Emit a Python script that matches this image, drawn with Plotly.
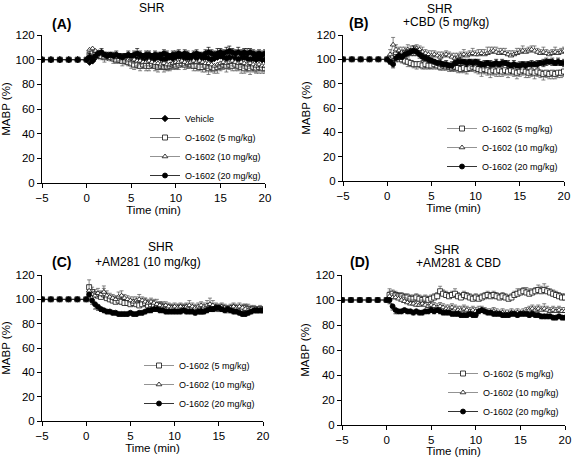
import plotly.graph_objects as go

# ---------------- data ----------------
TIME = [-5, -4, -3, -2, -1, 0,
        0.33, 0.67, 1.0, 1.33, 1.67, 2.0, 2.33, 2.67, 3.0, 3.33,
        3.67, 4.0, 4.33, 4.67, 5.0, 5.33, 5.67, 6.0, 6.33, 6.67,
        7.0, 7.33, 7.67, 8.0, 8.33, 8.67, 9.0, 9.33, 9.67, 10.0,
        10.33, 10.67, 11.0, 11.33, 11.67, 12.0, 12.33, 12.67, 13.0, 13.33,
        13.67, 14.0, 14.33, 14.67, 15.0, 15.33, 15.67, 16.0, 16.33, 16.67,
        17.0, 17.33, 17.67, 18.0, 18.33, 18.67, 19.0, 19.33, 19.67, 20.0]

# Panel A: SHR
A_VEH = [100, 100, 100, 100, 100, 100,
         98, 99, 102, 103, 104, 103, 102, 102, 101, 101,
         100, 101, 100, 101, 102, 101, 100, 100, 99, 100,
         101, 100, 101, 102, 101, 100, 101, 102, 101, 102,
         103, 102, 101, 102, 101, 102, 101, 100, 101, 102,
         101, 100, 101, 102, 103, 102, 101, 102, 101, 101,
         100, 101, 102, 101, 100, 101, 100, 101, 100, 100]
A_5 = [100, 100, 100, 100, 100, 100,
       104, 106, 105, 104, 103, 102, 103, 102, 101, 100,
       100, 99, 99, 98, 97, 96, 96, 95, 96, 95,
       95, 96, 95, 94, 95, 94, 94, 95, 96, 95,
       96, 97, 96, 97, 96, 95, 95, 94, 94, 95,
       93, 94, 93, 94, 95, 96, 95, 96, 95, 96,
       95, 94, 93, 94, 93, 94, 93, 94, 93, 93]
A_10 = [100, 100, 100, 100, 100, 100,
        108, 109, 107, 106, 105, 104, 104, 103, 103, 102,
        102, 101, 101, 100, 101, 100, 99, 99, 98, 98,
        99, 98, 97, 97, 96, 97, 96, 96, 97, 98,
        98, 99, 98, 97, 98, 99, 98, 99, 98, 97,
        97, 96, 95, 96, 97, 98, 97, 98, 99, 98,
        97, 98, 97, 96, 97, 96, 95, 96, 95, 95]
A_20 = [100, 100, 100, 100, 100, 100,
        102, 100, 103, 105, 106, 104, 103, 104, 103, 104,
        103, 102, 103, 104, 103, 104, 105, 104, 103, 104,
        104, 103, 104, 103, 104, 105, 104, 103, 104, 104,
        105, 104, 105, 104, 103, 104, 105, 104, 103, 105,
        106, 105, 104, 105, 106, 105, 106, 107, 106, 105,
        106, 105, 106, 105, 106, 105, 104, 105, 104, 105]
A_VEH_ERR = [0, 0, 0, 0, 0, 0,
             3, 4, 3, 3, 2, 3, 2, 3, 2, 3,
             2, 3, 2, 3, 3, 2, 3, 2, 3, 2,
             3, 2, 3, 3, 2, 3, 3, 2, 3, 2,
             3, 3, 2, 3, 3, 2, 3, 3, 2, 3,
             3, 2, 3, 4, 3, 3, 2, 3, 3, 2,
             3, 2, 3, 3, 4, 3, 3, 2, 3, 3]
A_5_ERR = [0, 0, 0, 0, 0, 0,
           4, 3, 4, 3, 3, 4, 3, 3, 4, 3,
           3, 4, 3, 3, 4, 4, 3, 4, 3, 4,
           4, 3, 4, 4, 3, 4, 3, 4, 4, 3,
           4, 3, 4, 4, 3, 4, 4, 3, 4, 5,
           5, 4, 4, 5, 4, 4, 5, 4, 4, 5,
           4, 5, 4, 4, 5, 4, 4, 5, 4, 4]
A_10_ERR = [0, 0, 0, 0, 0, 0,
            4, 5, 4, 3, 4, 3, 4, 3, 3, 4,
            3, 4, 3, 4, 3, 3, 4, 3, 4, 3,
            4, 3, 3, 4, 3, 4, 3, 4, 3, 4,
            3, 4, 3, 4, 4, 3, 4, 3, 4, 4,
            4, 5, 4, 4, 5, 4, 4, 5, 4, 4,
            5, 4, 4, 5, 4, 4, 5, 4, 4, 4]
A_20_ERR = [0, 0, 0, 0, 0, 0,
            3, 3, 3, 2, 3, 2, 3, 2, 3, 3,
            2, 3, 2, 3, 2, 3, 4, 3, 2, 3,
            3, 2, 3, 3, 2, 3, 3, 2, 3, 3,
            3, 2, 3, 3, 2, 3, 3, 2, 3, 3,
            4, 3, 3, 4, 3, 3, 4, 4, 3, 3,
            4, 3, 3, 4, 3, 3, 3, 3, 3, 3]

# Panel B: SHR + CBD (5 mg/kg)
B_5 = [100, 100, 100, 100, 100, 100,
       100, 103, 104, 102, 100, 99, 98, 97, 96, 96,
       96, 95, 96, 95, 95, 96, 95, 94, 95, 94,
       94, 93, 94, 93, 92, 93, 92, 93, 94, 93,
       92, 91, 92, 91, 90, 91, 90, 91, 90, 91,
       90, 91, 90, 89, 90, 91, 90, 89, 90, 89,
       90, 89, 88, 89, 88, 89, 88, 89, 89, 90]
B_10 = [100, 100, 100, 100, 100, 100,
        104, 112, 108, 107, 106, 107, 108, 107, 108, 109,
        108, 106, 105, 104, 103, 104, 103, 102, 103, 104,
        103, 102, 101, 102, 103, 104, 103, 104, 105, 104,
        104, 105, 104, 105, 106, 107, 106, 105, 106, 105,
        104, 103, 104, 105, 106, 107, 106, 107, 108, 107,
        106, 105, 106, 105, 104, 105, 106, 105, 106, 107]
B_20 = [100, 100, 100, 100, 100, 100,
        98, 96, 101, 103, 102, 104, 105, 106, 107, 106,
        104, 102, 101, 100, 99, 98, 97, 97, 96, 96,
        95, 95, 97, 98, 98, 98, 97, 98, 97, 98,
        97, 96, 96, 97, 96, 96, 97, 96, 97, 97,
        96, 95, 96, 95, 95, 96, 95, 96, 96, 96,
        96, 97, 97, 98, 98, 98, 97, 98, 97, 97]
B_5_ERR = [0, 0, 0, 0, 0, 0,
           3, 4, 3, 4, 3, 3, 4, 3, 3, 4,
           3, 3, 4, 3, 3, 4, 3, 3, 4, 3,
           4, 3, 4, 4, 3, 4, 4, 3, 4, 4,
           4, 5, 4, 4, 5, 4, 4, 5, 4, 4,
           5, 4, 4, 5, 4, 4, 5, 4, 4, 5,
           4, 4, 5, 4, 4, 5, 4, 4, 4, 4]
B_10_ERR = [0, 0, 0, 0, 0, 0,
            4, 6, 4, 3, 4, 3, 4, 4, 3, 3,
            3, 4, 3, 3, 4, 3, 3, 4, 3, 3,
            3, 3, 4, 3, 3, 4, 3, 3, 4, 3,
            4, 3, 4, 5, 4, 3, 4, 4, 3, 4,
            3, 4, 3, 4, 3, 4, 3, 3, 3, 4,
            3, 3, 4, 3, 3, 3, 4, 3, 3, 3]
B_20_ERR = [0, 0, 0, 0, 0, 0,
            2, 3, 3, 3, 2, 3, 3, 3, 4, 3,
            3, 3, 2, 3, 2, 2, 2, 3, 2, 3,
            2, 3, 2, 3, 3, 2, 3, 2, 3, 2,
            3, 2, 3, 2, 3, 2, 3, 2, 3, 2,
            3, 2, 3, 2, 3, 2, 3, 2, 3, 2,
            3, 2, 3, 3, 2, 3, 2, 3, 2, 3]

# Panel C: SHR + AM281 (10 mg/kg)
C_5 = [100, 100, 100, 100, 100, 100,
       110, 106, 104, 103, 102, 104, 101, 100, 99, 98,
       99, 98, 97, 97, 96, 97, 96, 95, 96, 97,
       95, 96, 95, 94, 95, 94, 93, 92, 93, 92,
       92, 93, 92, 93, 92, 91, 92, 91, 90, 91,
       92, 93, 92, 93, 92, 93, 92, 91, 92, 93,
       92, 91, 92, 93, 92, 91, 92, 91, 92, 91]
C_10 = [100, 100, 100, 100, 100, 100,
        107, 104, 103, 105, 104, 106, 103, 102, 101, 100,
        102, 103, 101, 100, 99, 98, 99, 100, 99, 98,
        97, 98, 97, 96, 95, 94, 95, 94, 93, 94,
        93, 94, 93, 94, 95, 94, 93, 94, 95, 94,
        95, 96, 95, 94, 93, 94, 93, 92, 93, 94,
        93, 94, 93, 92, 91, 92, 91, 90, 91, 90]
C_20 = [100, 100, 100, 100, 100, 100,
        104, 99, 96, 94, 92, 91, 90, 90, 89, 89,
        88, 88, 88, 88, 89, 88, 88, 89, 89, 90,
        91, 91, 92, 92, 91, 91, 90, 90, 90, 90,
        90, 90, 91, 90, 90, 90, 89, 90, 90, 90,
        91, 92, 92, 93, 93, 92, 91, 92, 91, 90,
        90, 89, 88, 88, 89, 90, 91, 91, 91, 91]
C_5_ERR = [0, 0, 0, 0, 0, 0,
           6, 4, 4, 3, 4, 5, 4, 3, 3, 4,
           3, 4, 3, 3, 4, 3, 4, 3, 3, 4,
           3, 3, 4, 3, 3, 4, 3, 4, 3, 3,
           4, 3, 4, 3, 3, 4, 3, 3, 4, 3,
           3, 4, 3, 3, 4, 3, 3, 4, 3, 3,
           3, 4, 3, 3, 4, 3, 3, 3, 3, 3]
C_10_ERR = [0, 0, 0, 0, 0, 0,
            5, 4, 3, 4, 3, 5, 4, 3, 3, 3,
            4, 4, 3, 3, 3, 4, 3, 4, 3, 3,
            3, 3, 3, 4, 3, 3, 3, 3, 3, 3,
            3, 3, 3, 3, 4, 3, 3, 3, 3, 3,
            4, 5, 4, 3, 3, 3, 3, 3, 3, 3,
            3, 3, 3, 4, 3, 3, 3, 3, 3, 3]
C_20_ERR = [0, 0, 0, 0, 0, 0,
            4, 3, 4, 3, 2, 2, 2, 2, 2, 2,
            2, 2, 2, 2, 2, 2, 2, 2, 2, 2,
            2, 2, 2, 2, 2, 2, 2, 2, 2, 2,
            2, 2, 2, 2, 2, 2, 2, 2, 2, 2,
            2, 2, 2, 2, 2, 2, 2, 2, 2, 2,
            2, 2, 2, 2, 2, 2, 2, 2, 2, 2]

# Panel D: SHR + AM281 & CBD
D_5 = [100, 100, 100, 100, 100, 100,
       104, 105, 104, 103, 103, 102, 102, 101, 101, 102,
       101, 100, 101, 100, 101, 102, 103, 107, 105, 104,
       103, 104, 105, 103, 102, 104, 103, 102, 101, 102,
       101, 102, 103, 104, 103, 104, 103, 102, 103, 102,
       101, 102, 104, 105, 106, 107, 106, 105, 106, 107,
       108, 107, 108, 107, 106, 105, 104, 103, 102, 102]
D_10 = [100, 100, 100, 100, 100, 100,
        103, 102, 102, 101, 100, 99, 98, 97, 97, 96,
        96, 97, 96, 95, 96, 95, 94, 95, 94, 93,
        93, 94, 93, 92, 92, 93, 92, 91, 92, 91,
        91, 92, 91, 90, 90, 91, 90, 89, 90, 89,
        89, 90, 89, 90, 89, 90, 91, 92, 93, 92,
        93, 92, 93, 92, 91, 92, 91, 92, 91, 91]
D_20 = [100, 100, 100, 100, 100, 100,
        100, 95, 92, 91, 91, 92, 91, 91, 90, 91,
        90, 90, 91, 91, 92, 91, 92, 91, 90, 90,
        90, 89, 89, 89, 88, 88, 88, 89, 88, 88,
        91, 92, 91, 90, 90, 89, 89, 89, 88, 88,
        88, 89, 89, 88, 89, 89, 89, 88, 89, 88,
        88, 87, 87, 87, 87, 86, 86, 87, 86, 86]
D_5_ERR = [0, 0, 0, 0, 0, 0,
           5, 3, 3, 3, 3, 3, 3, 3, 3, 3,
           3, 3, 3, 3, 3, 3, 3, 4, 3, 3,
           3, 3, 4, 3, 3, 3, 3, 3, 3, 3,
           3, 3, 3, 3, 3, 3, 3, 3, 3, 3,
           3, 3, 3, 4, 3, 3, 4, 4, 3, 3,
           4, 4, 5, 4, 3, 3, 3, 3, 3, 3]
D_10_ERR = [0, 0, 0, 0, 0, 0,
            4, 3, 3, 3, 3, 3, 3, 3, 3, 3,
            3, 3, 3, 3, 3, 3, 3, 3, 3, 3,
            3, 3, 3, 3, 3, 3, 3, 3, 3, 3,
            4, 3, 3, 3, 3, 3, 3, 3, 3, 3,
            3, 3, 3, 3, 3, 3, 3, 3, 3, 3,
            3, 3, 4, 3, 3, 3, 3, 3, 3, 3]
D_20_ERR = [0, 0, 0, 0, 0, 0,
            3, 3, 3, 2, 2, 2, 2, 2, 2, 2,
            2, 2, 2, 2, 2, 2, 2, 2, 2, 2,
            2, 2, 2, 2, 2, 2, 2, 2, 2, 2,
            2, 2, 2, 2, 2, 2, 2, 2, 2, 2,
            2, 2, 2, 2, 2, 2, 2, 2, 2, 2,
            2, 2, 2, 2, 2, 2, 2, 2, 2, 2]

LBL_VEH = "Vehicle"
LBL_5 = "O-1602 (5 mg/kg)"
LBL_10 = "O-1602 (10 mg/kg)"
LBL_20 = "O-1602 (20 mg/kg)"

X_TICKS = [-5, 0, 5, 10, 15, 20]
Y_TICKS = [0, 20, 40, 60, 80, 100, 120]

# ---------------- figure ----------------
W, H = 572, 457
FONT = "Arial, Liberation Sans, Helvetica, sans-serif"


def px(x):
    return x / W


def py(y):
    return 1 - y / H


STYLE = {
    "veh": dict(symbol="diamond", size=5, fill="#000000", edge="#000000", line="#000000", err="#000000"),
    "5": dict(symbol="square", size=5, fill="#ffffff", edge="#111111", line="#777777", err="#555555"),
    "10": dict(symbol="triangle-up", size=5, fill="#ffffff", edge="#111111", line="#777777", err="#555555"),
    "20": dict(symbol="circle", size=5, fill="#000000", edge="#000000", line="#000000", err="#000000"),
}

fig = go.Figure()


def add(panel, key, name, y, err, direction, legend):
    s = STYLE[key]
    zero = [0] * len(err)
    up = err if direction in ("up", "both") else zero
    dn = err if direction in ("down", "both") else zero
    sx = "" if panel == 1 else str(panel)
    fig.add_trace(go.Scatter(
        x=TIME, y=y, name=name, mode="lines+markers",
        xaxis="x" + sx, yaxis="y" + sx, legend=legend,
        line=dict(color=s["line"], width=0.8),
        marker=dict(symbol=s["symbol"], size=s["size"],
                    color=s["fill"], line=dict(color=s["edge"], width=0.8)),
        error_y=dict(type="data", symmetric=False, array=up, arrayminus=dn,
                     color=s["err"], thickness=0.7, width=2),
    ))


# Panel A
add(1, "veh", LBL_VEH, A_VEH, A_VEH_ERR, "up", "legend")
add(1, "5", LBL_5, A_5, A_5_ERR, "down", "legend")
add(1, "10", LBL_10, A_10, A_10_ERR, "down", "legend")
add(1, "20", LBL_20, A_20, A_20_ERR, "up", "legend")
# Panel B
add(2, "5", LBL_5, B_5, B_5_ERR, "down", "legend2")
add(2, "10", LBL_10, B_10, B_10_ERR, "up", "legend2")
add(2, "20", LBL_20, B_20, B_20_ERR, "both", "legend2")
# Panel C
add(3, "5", LBL_5, C_5, C_5_ERR, "up", "legend3")
add(3, "10", LBL_10, C_10, C_10_ERR, "up", "legend3")
add(3, "20", LBL_20, C_20, C_20_ERR, "down", "legend3")
# Panel D
add(4, "5", LBL_5, D_5, D_5_ERR, "up", "legend4")
add(4, "10", LBL_10, D_10, D_10_ERR, "up", "legend4")
add(4, "20", LBL_20, D_20, D_20_ERR, "down", "legend4")

# panel boxes in pixels: (left, right, top, bottom)
BOX = {
    1: (42, 265, 35, 183),
    2: (343, 564, 35, 181),
    3: (42, 263, 275, 421),
    4: (342, 565, 275, 425),
}

axis_common = dict(showline=True, linecolor="#000000", linewidth=1, ticks="outside",
                   ticklen=4, tickwidth=1, tickcolor="#000000", showgrid=False,
                   zeroline=False, automargin=False,
                   tickfont=dict(size=11.5, color="#000000", family=FONT))

layout = dict(width=W, height=H, autosize=False,
              margin=dict(l=0, r=0, t=0, b=0, pad=0, autoexpand=False),
              paper_bgcolor="white", plot_bgcolor="white",
              font=dict(family=FONT, color="#000000"))

for i, (l, r, t, b) in BOX.items():
    sx = "" if i == 1 else str(i)
    layout["xaxis" + sx] = dict(axis_common, domain=[px(l), px(r)], range=[-5, 20],
                                tickvals=X_TICKS, anchor="y" + sx,
                                title=dict(text="Time (min)", standoff=2,
                                           font=dict(size=11.5, family=FONT)))
    layout["yaxis" + sx] = dict(axis_common, domain=[py(b), py(t)], range=[0, 120],
                                tickvals=Y_TICKS, anchor="x" + sx,
                                title=dict(text="MABP (%)", standoff=3,
                                           font=dict(size=11.5, family=FONT)))

leg_common = dict(bgcolor="rgba(0,0,0,0)", font=dict(size=9, family=FONT, color="#000000"),
                  itemwidth=30, tracegroupgap=0, xanchor="left", yanchor="top",
                  traceorder="normal")
layout["legend"] = dict(leg_common, x=px(145), y=py(104))
layout["legend2"] = dict(leg_common, x=px(442), y=py(114))
layout["legend3"] = dict(leg_common, x=px(139), y=py(351))
layout["legend4"] = dict(leg_common, x=px(443), y=py(359))

fig.update_layout(**layout)
fig.update_layout(showlegend=True)

ANN = [
    ("SHR", 152, 8, False, 12),
    ("(A)", 62, 24, True, 14),
    ("SHR", 440, 9, False, 12),
    ("+CBD (5 mg/kg)", 446, 22, False, 12),
    ("(B)", 358, 23, True, 14),
    ("SHR", 161, 247, False, 12),
    ("+AM281 (10 mg/kg)", 148, 262, False, 12),
    ("(C)", 61, 262, True, 14),
    ("SHR", 447, 250, False, 12),
    ("+AM281 & CBD", 458, 263, False, 12),
    ("(D)", 359, 262, True, 14),
]
for text, x, y, bold, size in ANN:
    fig.add_annotation(text=f"<b>{text}</b>" if bold else text, x=px(x), y=py(y),
                       xref="paper", yref="paper", showarrow=False,
                       xanchor="center", yanchor="middle",
                       font=dict(size=size, family=FONT, color="#000000"))

fig.write_html("out.html", config={"displayModeBar": False},
               post_script="document.body.style.margin='0';document.body.style.overflow='hidden';")
